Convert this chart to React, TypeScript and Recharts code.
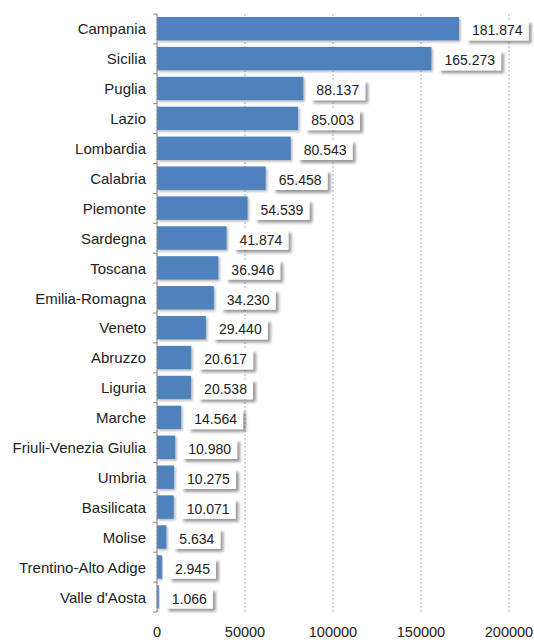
import { BarChart, Bar, XAxis, YAxis, CartesianGrid, LabelList } from "recharts";

const regions = [
  "Campania",
  "Sicilia",
  "Puglia",
  "Lazio",
  "Lombardia",
  "Calabria",
  "Piemonte",
  "Sardegna",
  "Toscana",
  "Emilia-Romagna",
  "Veneto",
  "Abruzzo",
  "Liguria",
  "Marche",
  "Friuli-Venezia Giulia",
  "Umbria",
  "Basilicata",
  "Molise",
  "Trentino-Alto Adige",
  "Valle d'Aosta",
];

const values = [
  181874, 165273, 88137, 85003, 80543, 65458, 54539, 41874, 36946, 34230,
  29440, 20617, 20538, 14564, 10980, 10275, 10071, 5634, 2945, 1066,
];

const axisTicks = [0, 50000, 100000, 150000, 200000];

const data = regions.map((name, i) => ({ name, value: values[i] }));

const FONT = "'Liberation Sans', Arial, sans-serif";
const PLOT_TOP = 14;
const PLOT_H = 598;
const BAND = PLOT_H / regions.length;

// 181874 -> "181.874"
const fmt = (v: number) => String(v).replace(/\B(?=(\d{3})+(?!\d))/g, ".");

const textWidth = (s: string) =>
  s.split("").reduce((w, c) => w + (c === "." ? 3.89 : 7.79), 0);

function CategoryTick(props: any) {
  const { x, y, payload, index } = props;
  return (
    <g>
      <line x1={x + 7} x2={x + 11} y1={y - BAND / 2} y2={y - BAND / 2} stroke="#888" />
      {index === regions.length - 1 && (
        <line x1={x + 7} x2={x + 11} y1={y + BAND / 2} y2={y + BAND / 2} stroke="#888" />
      )}
      <text
        x={x}
        y={y}
        textAnchor="end"
        dominantBaseline="central"
        fontSize={15}
        fontFamily={FONT}
        fill="#222"
      >
        {payload.value}
      </text>
    </g>
  );
}

function ValueTick(props: any) {
  const { x, payload } = props;
  return (
    <text
      x={x}
      y={PLOT_TOP + PLOT_H + 20}
      textAnchor="middle"
      dominantBaseline="central"
      fontSize={14.5}
      fontFamily={FONT}
      fill="#222"
    >
      {payload.value}
    </text>
  );
}

function ValueLabel(props: any) {
  const { x, y, width, height, value } = props;
  const s = fmt(Number(value));
  const w = textWidth(s) + 12;
  const bx = Number(x) + Number(width) + 7;
  const by = Number(y) + Number(height) / 2 - 8.3;
  return (
    <g>
      <rect x={bx} y={by} width={w} height={20} fill="#fff" filter="url(#boxShadow)" />
      <text
        x={bx + w / 2}
        y={by + 10}
        textAnchor="middle"
        dominantBaseline="central"
        fontSize={14}
        fontFamily={FONT}
        fill="#222"
      >
        {s}
      </text>
    </g>
  );
}

function BarShape(props: any) {
  const { x, y, width, height } = props;
  return (
    <rect x={x} y={y} width={width} height={height} fill="#4f81bd" filter="url(#barShadow)" />
  );
}

export default function App() {
  return (
    <div style={{ position: "absolute", left: 0, top: 0 }}>
      <svg width={0} height={0} style={{ position: "absolute" }}>
        <defs>
          <filter id="boxShadow" x="-20%" y="-30%" width="150%" height="180%">
            <feDropShadow dx={3} dy={3} stdDeviation={1.6} floodColor="#000" floodOpacity={0.4} />
          </filter>
          <filter id="barShadow" x="-10%" y="-20%" width="130%" height="160%">
            <feDropShadow dx={1.5} dy={1.5} stdDeviation={1} floodColor="#000" floodOpacity={0.3} />
          </filter>
        </defs>
      </svg>
      <BarChart
        width={534}
        height={642}
        data={data}
        layout="vertical"
        margin={{ top: PLOT_TOP, right: 25, bottom: 0, left: 0 }}
      >
        <CartesianGrid
          xAxisId="grid"
          horizontal={false}
          stroke="#9cb0cf"
          strokeDasharray="2 2"
        />
        <XAxis
          xAxisId="grid"
          type="number"
          domain={[0, 200000]}
          ticks={axisTicks}
          allowDataOverflow
          axisLine={false}
          tickLine={false}
          height={30}
          tickSize={0}
          tickMargin={20}
          tick={<ValueTick />}
        />
        <XAxis
          xAxisId="bar"
          type="number"
          orientation="top"
          height={0}
          domain={[0, 212000]}
          ticks={[0, 212000]}
          allowDataOverflow
          hide
        />
        <YAxis
          type="category"
          dataKey="name"
          width={157}
          axisLine={{ stroke: "#888" }}
          tickLine={false}
          tickSize={0}
          tickMargin={11}
          interval={0}
          tick={<CategoryTick />}
        />
        <Bar
          xAxisId="bar"
          dataKey="value"
          barSize={23.4}
          shape={<BarShape />}
          isAnimationActive={false}
        >
          <LabelList dataKey="value" content={<ValueLabel />} />
        </Bar>
      </BarChart>
    </div>
  );
}
